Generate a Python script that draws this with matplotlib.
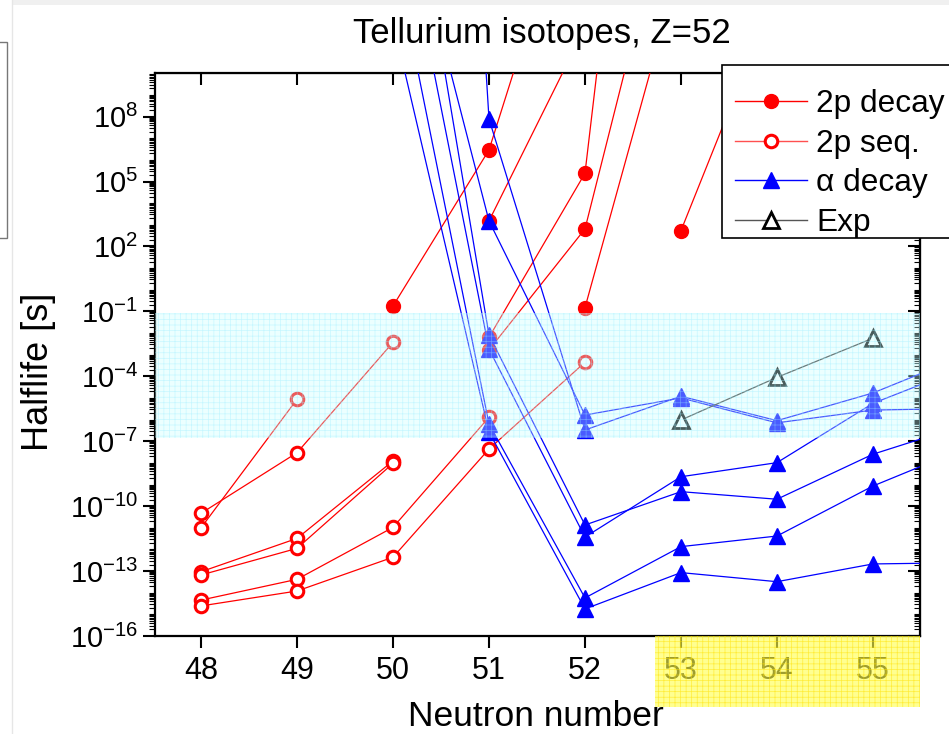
import numpy as np
import matplotlib.pyplot as plt
import matplotlib.transforms as mtransforms
from matplotlib.lines import Line2D
from matplotlib.patches import Rectangle
from matplotlib.ticker import FixedLocator, NullFormatter, FuncFormatter

plt.rcParams['font.family'] = ['Liberation Sans', 'DejaVu Sans']
plt.rcParams['mathtext.fontset'] = 'custom'
plt.rcParams['mathtext.rm'] = 'Liberation Sans'
plt.rcParams['mathtext.it'] = 'Liberation Sans:italic'
plt.rcParams['hatch.linewidth'] = 0.5

nan = np.nan
neutrons = [48, 49, 50, 51, 52, 53, 54, 55, 56]

# log10(halflife / s), one row per curve, nan where a curve has no point
decay_2p = [
    [nan, nan, -0.75, 6.46, 20.5, nan, nan, nan, nan],
    [nan, nan, nan, 3.18, 12.1, nan, nan, nan, nan],
    [nan, nan, nan, -2.2, 5.38, 43.0, nan, nan, nan],
    [nan, nan, nan, -2.78, 2.81, 20.4, nan, nan, nan],
    [nan, nan, nan, nan, -0.83, 15.2, nan, nan, nan],
    [nan, nan, nan, nan, nan, 2.73, 13.8, nan, nan],
]

seq_2p = [
    [-11.0, -5.06, nan, nan, nan, nan, nan, nan, nan],
    [-10.33, -7.53, -2.43, nan, nan, nan, nan, nan, nan],
    [-13.03, -11.49, -7.91, nan, nan, nan, nan, nan, nan],
    [-13.18, -11.95, -8.02, nan, nan, nan, nan, nan, nan],
    [-14.34, -13.38, -10.98, -5.89, nan, nan, nan, nan, nan],
    [-14.61, -13.92, -12.36, -7.36, -3.35, nan, nan, nan, nan],
]

alpha_decay = [
    [nan, nan, 80.0, 7.89, -6.48, -4.92, -6.05, -4.77, -2.97],
    [nan, nan, 20.4, 3.18, -5.79, -5.0, -6.15, -5.56, -5.48],
    [nan, nan, 24.3, -2.09, -10.87, -9.33, -9.68, -7.6, -6.19],
    [nan, nan, 19.6, -2.74, -11.43, -8.64, -7.99, -5.25, -3.51],
    [nan, nan, 15.8, -6.2, -14.24, -11.87, -11.38, -9.07, -7.25],
    [nan, nan, 12.4, -6.57, -14.75, -13.07, -13.49, -12.67, -12.61],
]

exp_n = [53, 54, 55]
exp_log = [-6.02, -4.05, -2.24]

band_log = (-6.87, -1.07)

fig = plt.figure(figsize=(9.49, 7.34), dpi=100)
ax = fig.add_axes([0.1633, 0.1335, 0.8061, 0.7666])

for row in decay_2p:
    ax.plot(neutrons, 10.0 ** np.array(row), '-o', color='red', lw=0.9, ms=10, zorder=3)
for row in seq_2p:
    ax.plot(neutrons, 10.0 ** np.array(row), '-o', color='red', lw=0.9, ms=9,
            mfc='white', mec='red', mew=2.2, zorder=3)
for row in alpha_decay:
    ax.plot(neutrons, 10.0 ** np.array(row), '-^', color='blue', lw=0.9, ms=12, zorder=4)
ax.plot(exp_n, 10.0 ** np.array(exp_log), '-^', color='#333333', lw=0.9, ms=12,
        mfc='white', mec='black', mew=2, zorder=4)

# shaded halflife window, drawn on top like the original
ax.axhspan(10 ** band_log[0], 10 ** band_log[1], facecolor=(0.8, 1, 1, 0.36),
           edgecolor=(0.6, 0.93, 1, 0.45), hatch='+++', lw=0, zorder=8)

ax.set_xlim(47.52, 55.49)
ax.set_yscale('log')
ax.set_ylim(1e-16, 1e10)

ax.set_xticks(range(48, 56))
ax.tick_params(axis='x', direction='out', length=8.5, width=1.5, labelsize=22, pad=6)

major_y = [10.0 ** e for e in range(-16, 9, 3)]
minor_y = [m * 10.0 ** e for e in range(-16, 10) for m in range(1, 10)
           if not (m == 1 and (e + 16) % 3 == 0)]
ax.yaxis.set_major_locator(FixedLocator(major_y))
ax.yaxis.set_minor_locator(FixedLocator(minor_y))
ax.yaxis.set_major_formatter(FuncFormatter(lambda v, p: r'$10^{%d}$' % round(np.log10(v))))
ax.yaxis.set_minor_formatter(NullFormatter())
ax.tick_params(axis='y', which='major', direction='out', length=8.5, width=1.5, labelsize=21)
ax.tick_params(axis='y', which='minor', direction='out', length=4, width=0.8)

for s in ax.spines.values():
    s.set_linewidth(1.6)

top = ax.secondary_xaxis('top')
top.set_xticks(range(48, 56))
top.tick_params(direction='in', length=8.5, width=1.5, labeltop=False)

right = ax.secondary_yaxis('right')
right.yaxis.set_major_locator(FixedLocator(major_y))
right.yaxis.set_minor_locator(FixedLocator(minor_y))
right.yaxis.set_minor_formatter(NullFormatter())
right.tick_params(which='major', direction='in', length=8.5, width=1.5, labelright=False)
right.tick_params(which='minor', direction='in', length=4, width=0.8)

# yellow marker under the x axis
trans = mtransforms.blended_transform_factory(ax.transData, ax.transAxes)
ax.add_patch(Rectangle((52.73, -0.126), 55.49 - 52.73, 0.126, transform=trans,
                       facecolor=(1, 1, 0.3, 0.62), edgecolor=(1, 0.88, 0, 0.6),
                       hatch='+++', lw=0, clip_on=False, zorder=10))

fig.text(0.571, 1 - 33 / 734, 'Tellurium isotopes, Z=52', ha='center', va='center', fontsize=25)
fig.text(536 / 949, 1 - 726 / 734, 'Neutron number', ha='center', va='baseline', fontsize=25.5)
fig.text(38 / 949, 1 - 372 / 734, 'Halflife [s]', rotation=90, ha='center', va='center', fontsize=26)

# legend box runs off the right edge, so draw the frame separately
fig.add_artist(Rectangle((722 / 949, 1 - 238 / 734), 0.3, 173 / 734, transform=fig.transFigure,
                         facecolor='white', edgecolor='black', lw=1.2, zorder=4.5))
handles = [
    Line2D([], [], color='red', lw=1, marker='o', ms=10),
    Line2D([], [], color='#ff5050', lw=1, marker='o', ms=9, mfc='white', mec='red', mew=2.2),
    Line2D([], [], color='blue', lw=1, marker='^', ms=12),
    Line2D([], [], color='#555555', lw=1, marker='^', ms=12, mfc='white', mec='black', mew=2),
]
leg = fig.legend(handles, ['2p decay', '2p seq.', 'α decay', 'Exp'], loc='upper left',
                 bbox_to_anchor=(722 / 949, 1 - 76 / 734), frameon=False,
                 fontsize=22.8, handlelength=2.25, handletextpad=0.3,
                 labelspacing=0.3, borderpad=0.42, borderaxespad=0)
leg.set_zorder(5)

# bits of the surrounding window
fig.add_artist(Rectangle((-0.01, 1 - 238 / 734), 0.01 + 7 / 949, 196 / 734,
                         transform=fig.transFigure, fill=False, edgecolor='#777777', lw=1))
fig.add_artist(Line2D([12 / 949, 12 / 949], [0, 1], transform=fig.transFigure, color='#e6e6e6', lw=1))
fig.add_artist(Rectangle((12 / 949, 1 - 5 / 734), 1, 5 / 734, transform=fig.transFigure,
                         facecolor='#f0f0f0', lw=0))

fig.savefig('out.png', dpi=100)
